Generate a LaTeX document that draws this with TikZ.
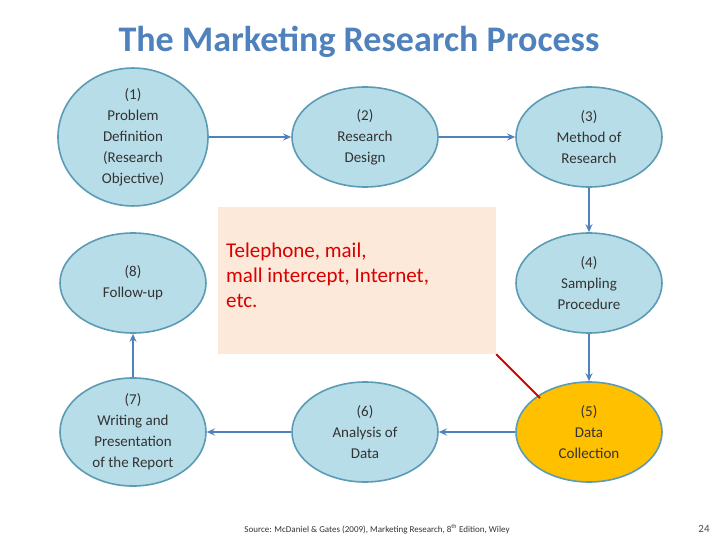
\documentclass[tikz,border=0pt]{standalone}
\usepackage{fontspec}
\setmainfont{Carlito}
\usetikzlibrary{shapes.geometric,arrows.meta}
\definecolor{ttl}{HTML}{4F81BD}
\definecolor{efill}{HTML}{B7DDE8}
\definecolor{edraw}{HTML}{5B9BB5}
\definecolor{arr}{HTML}{4F81BD}
\definecolor{box}{HTML}{FCE9DA}
\definecolor{gold}{HTML}{FFC000}
\begin{document}
\begin{tikzpicture}[x=1pt,y=-1pt,
 ell/.style={ellipse,draw=edraw,line width=1.6pt,fill=efill,minimum width=146pt,minimum height=100pt,inner sep=0pt,align=center,font=\fontsize{15}{21}\selectfont,text=black!80},
 con/.style={-{Stealth[length=8pt,width=7pt]},arr,line width=1.6pt}]
\useasboundingbox (0,0) rectangle (720,540);
\node[text=ttl,font=\fontsize{36}{40}\selectfont\bfseries] (t) at (359,42) {The Marketing Research Process};
\node[ell,minimum width=150pt,minimum height=110pt] (n1) at (133,137) {(1)\\Problem\\Definition\\(Research\\Objective)};
\node[ell] (n2) at (365,137) {(2)\\Research\\Design};
\node[ell] (n3) at (589,137) {(3)\\Method of\\Research};
\node[ell] (n4) at (589,283) {(4)\\Sampling\\Procedure};
\node[ell,fill=gold] (n5) at (589,432) {(5)\\Data\\Collection};
\node[ell] (n6) at (365,432) {(6)\\Analysis of\\Data};
\node[ell] (n7) at (133,432) {(7)\\Writing and\\Presentation\\of the Report};
\node[ell] (n8) at (133,283) {(8)\\Follow-up};
\node[fill=box,minimum width=278pt,minimum height=147pt,inner sep=0pt] (b) at (357,280.5) {};
\node[anchor=north west,align=left,text=red!85!black,font=\fontsize{21}{25}\selectfont,inner sep=0pt] (bt) at (226,243) {Telephone, mail,\\mall intercept, Internet,\\etc.};
\coordinate (rc) at (540,398);
\draw[red!85!black,line width=1.8pt] (b.south east) -- (rc);
\draw[con] (n1) -- (n2);
\draw[con] (n2) -- (n3);
\draw[con] (n3) -- (n4);
\draw[con] (n4) -- (n5);
\draw[con] (n5) -- (n6);
\draw[con] (n6) -- (n7);
\draw[con] (n7) -- (n8);
\node[font=\fontsize{9}{10}\selectfont,text=black!80] (src) at (377,529) {Source: McDaniel \& Gates (2009), Marketing Research, 8\textsuperscript{th} Edition, Wiley};
\node[font=\fontsize{11}{12}\selectfont,text=black!70] (pg) at (704,529) {24};
\end{tikzpicture}
\end{document}
